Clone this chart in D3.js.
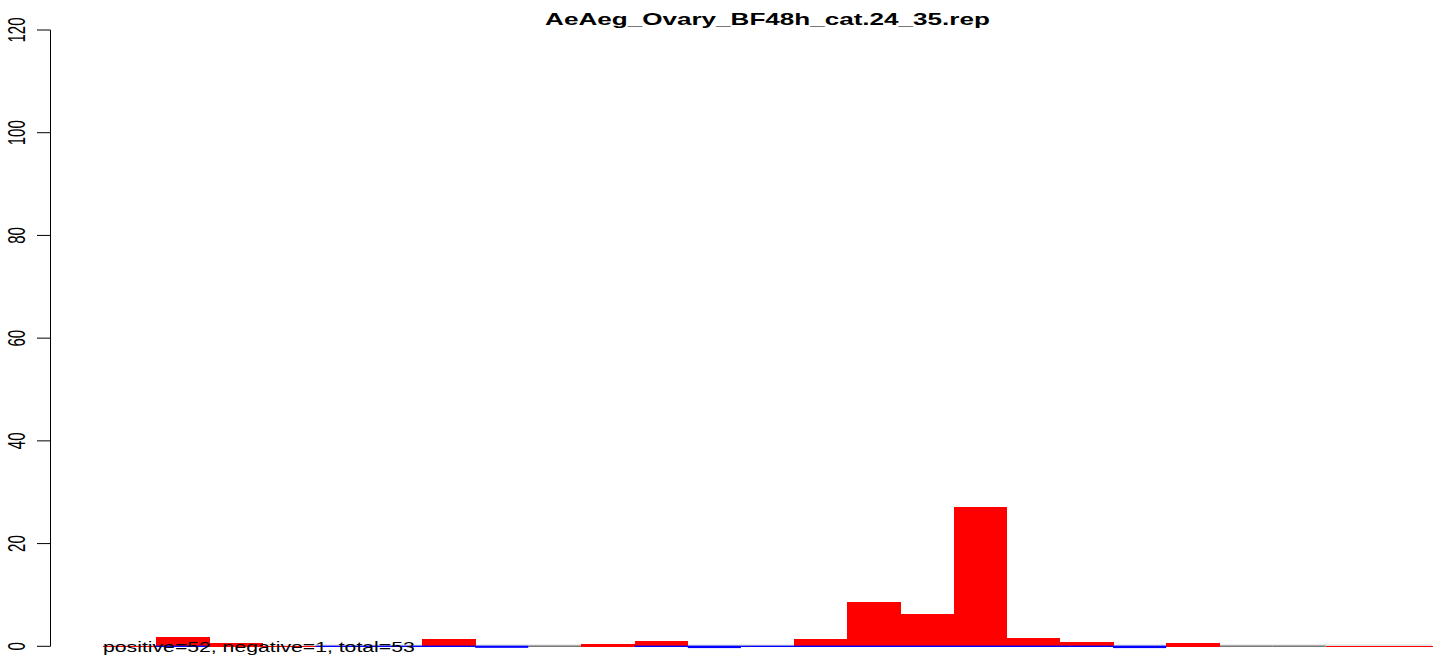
<!DOCTYPE html>
<html>
<head>
<meta charset="utf-8">
<script src="https://cdn.jsdelivr.net/npm/d3@7"></script>
<style>
  html, body { margin: 0; padding: 0; background: #fff; }
  svg { display: block; }
  text { font-family: "Liberation Sans", Arial, Helvetica, sans-serif; fill: #000; }
</style>
</head>
<body>
<svg id="chart" width="1447" height="655"></svg>
<script>
// ---- data ----
const title = "AeAeg_Ovary_BF48h_cat.24_35.rep";
const summaryLabel = "positive=52, negative=1, total=53";
const bins = d3.range(1, 26);               // 25 bins
// positive (red) heights; null = no red mark
const positives = [0, 1.8, 0.7, 0, null, null, 1.45, null, null, 0.5, 1.1, null, null,
                   1.45, 8.7, 6.3, 27.2, 1.7, 0.8, null, 0.7, null, null, 0, 0];
// negative (blue) depths; null = no blue mark
const negatives = [null, 0, null, null, 0, 0, 0, 0.3, null, null, 0, 0.35, 0,
                   0, 0, 0, 0, 0, 0, 0.35, null, null, null, null, null];
const yTicks = [0, 20, 40, 60, 80, 100, 120];

// ---- layout ----
const svg = d3.select("#chart");
const x = d3.scaleBand().domain(bins).range([103, 1432]).paddingInner(0).paddingOuter(0);
const y = d3.scaleLinear().domain([0, 120]).range([646.3, 30]);
const y0 = y(0);
const SX = 1.6; // horizontal stretch of glyphs

// light grey baseline
svg.append("line")
  .attr("x1", x.range()[0]).attr("x2", x.range()[1])
  .attr("y1", y0 - 1.2).attr("y2", y0 - 1.2)
  .attr("stroke", "#d3d3d3").attr("stroke-width", 1);

// grey segments for empty bins
svg.append("g").selectAll("line")
  .data(bins.filter((b, i) => positives[i] === null && negatives[i] === null))
  .join("line")
  .attr("x1", d => x(d)).attr("x2", d => x(d) + x.bandwidth())
  .attr("y1", y0).attr("y2", y0)
  .attr("stroke", "#777777").attr("stroke-width", 1.5);

// red bars
const posData = bins.map((b, i) => ({b, v: positives[i]})).filter(d => d.v !== null);
svg.append("g").attr("shape-rendering", "crispEdges").selectAll("rect")
  .data(posData)
  .join("rect")
  .attr("x", d => x(d.b))
  .attr("width", x.bandwidth() + 0.6)
  .attr("y", d => d.v > 0 ? y(d.v) : y0 - 0.7)
  .attr("height", d => d.v > 0 ? y0 - y(d.v) + 0.5 : 1.5)
  .attr("fill", "#ff0000");

// blue bars (negative, downward)
const negData = bins.map((b, i) => ({b, v: negatives[i]})).filter(d => d.v !== null);
svg.append("g").selectAll("rect")
  .data(negData)
  .join("rect")
  .attr("x", d => x(d.b))
  .attr("width", x.bandwidth())
  .attr("y", y0 - 0.7)
  .attr("height", d => Math.max(1.4, y(-d.v) - y0 + 0.7))
  .attr("fill", "#0000ff");

// y axis
const ax = svg.append("g");
ax.append("line")
  .attr("x1", 50.5).attr("x2", 50.5)
  .attr("y1", y(0)).attr("y2", y(120))
  .attr("stroke", "#000").attr("stroke-width", 1);
ax.selectAll("line.tick")
  .data(yTicks).join("line").attr("class", "tick")
  .attr("x1", 37).attr("x2", 50.5)
  .attr("y1", d => y(d)).attr("y2", d => y(d))
  .attr("stroke", "#000").attr("stroke-width", 1);
ax.selectAll("text")
  .data(yTicks).join("text")
  .attr("transform", d => `translate(25,${y(d)}) scale(${SX},1) rotate(-90)`)
  .attr("text-anchor", "middle")
  .attr("font-size", 15)
  .text(d => d);

// title
const t = svg.append("text")
  .attr("text-anchor", "middle")
  .attr("font-size", 17)
  .attr("font-weight", "bold")
  .text(title);
const tw = t.node().getComputedTextLength();
t.attr("transform", `translate(767.5,25) scale(${445 / tw},1)`);

// summary label
const s = svg.append("text")
  .attr("font-size", 15)
  .text(summaryLabel);
const sw = s.node().getComputedTextLength();
s.attr("transform", `translate(103,652) scale(${312 / sw},1)`);
</script>
</body>
</html>
